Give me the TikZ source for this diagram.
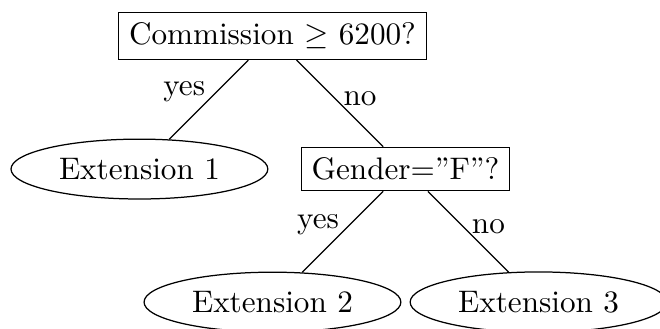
\documentclass[tikz,border=0pt]{standalone}
\usetikzlibrary{shapes.geometric}
\begin{document}
\begin{tikzpicture}[test/.style={draw}, leaf/.style={draw,ellipse}, lbl/.style={midway,inner sep=1pt,yshift=-2pt}]
\useasboundingbox (-3.072,-3.292) rectangle (4.369,0.406);

\node[test] (comm) at (0,0) {Commission $\geq$ 6200?};
\node[leaf] (ext1) at (-1.5,-1.5) {Extension 1};
\node[test] (gender) at (1.5,-1.5) {Gender=''F''?};
\node[leaf] (ext2) at (0,-3) {Extension 2};
\node[leaf] (ext3) at (3,-3) {Extension 3};

\draw (comm) -- (ext1) node[lbl,anchor=south east]{yes};
\draw (comm) -- (gender) node[lbl,anchor=south west]{no};

\draw (gender) -- (ext2) node[lbl,anchor=south east]{yes};
\draw (gender) -- (ext3) node[lbl,anchor=south west]{no};

\end{tikzpicture}
\end{document}
